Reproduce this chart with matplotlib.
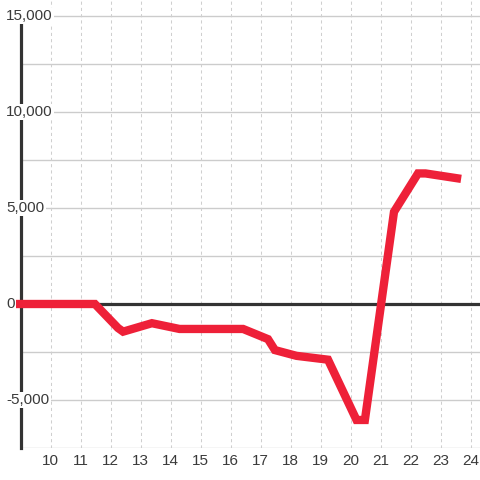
import matplotlib.pyplot as plt
import matplotlib.transforms as mtransforms

plt.rcParams['font.family'] = ['Liberation Sans', 'DejaVu Sans']

# data
x = [8.92, 11.48, 12.25, 12.42, 13.38, 14.3, 16.42, 17.25, 17.48, 18.2, 19.25,
     20.2, 20.48, 21.45, 22.25, 22.5, 23.55]
y = [0, 0, -1250, -1440, -1000, -1300, -1300, -1830, -2400, -2700, -2900,
     -6040, -6040, 4800, 6800, 6800, 6550]

x_ticks = list(range(10, 25))
y_grid = [-7500, -5000, -2500, 2500, 5000, 7500, 10000, 12500, 15000]
y_labels = [15000, 10000, 5000, 0, -5000]

fig = plt.figure(figsize=(4.8, 4.8), dpi=100)
ax = fig.add_axes([20.5 / 480, 32 / 480, 459.5 / 480, 448 / 480])
ax.set_xlim(9, 9 + 459.5 / 30)
ax.set_ylim(-7500, 15000 + 16 / 96 * 5000)

for s in ['top', 'right', 'bottom']:
    ax.spines[s].set_visible(False)
ax.spines['left'].set_color('#333333')
ax.spines['left'].set_linewidth(2.3)
ax.spines['left'].set_bounds(-7500, 14580)
ax.spines['left'].set_zorder(2)

for v in y_grid:
    ax.axhline(v, color='#cccccc', lw=1, zorder=1)
for t in x_ticks:
    ax.axvline(t, color='#cfcfcf', lw=0.75, ls=(0, (3, 3)), zorder=1)
ax.axhline(0, color='#333333', lw=2.3, zorder=3)

ax.plot(x, y, color='#ee2038', lw=6, zorder=4, clip_on=False,
        solid_joinstyle='miter')

ax.set_yticks([])
ax.set_xticks(x_ticks)
ax.set_xticklabels([str(t) for t in x_ticks], fontsize=11, color='#3a3a3a')
ax.tick_params(axis='x', length=0, pad=4.5)

trans = mtransforms.blended_transform_factory(ax.transAxes, ax.transData)
for v in y_labels:
    ax.text(-14.5 / 459.5, v, f'{v:,}', transform=trans,
            ha='left', va='center', fontsize=11, color='#3a3a3a', zorder=5,
            bbox=dict(facecolor='white', edgecolor='none', pad=1.0))

fig.savefig('out.png', dpi=100)
